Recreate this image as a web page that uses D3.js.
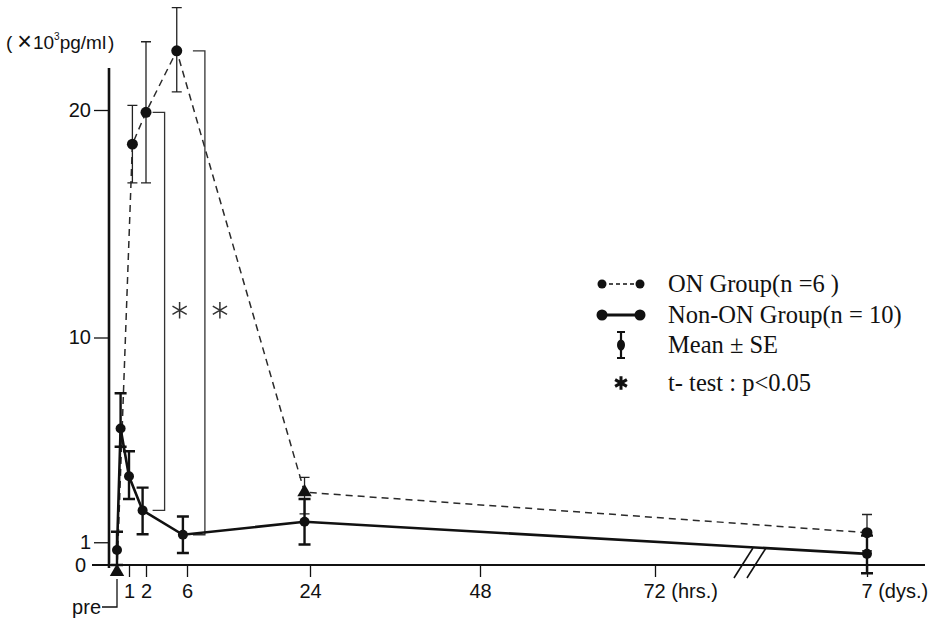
<!DOCTYPE html>
<html>
<head>
<meta charset="utf-8">
<script src="https://cdn.jsdelivr.net/npm/d3@7"></script>
<style>
  html, body { margin: 0; padding: 0; background: #fff; }
  svg { display: block; }
</style>
</head>
<body>
<script>
// ---------------- DATA ----------------
// time in hours (168 h = 7 days)
const onTimes   = [0, 1.2, 2, 5, 23.2, 168];
const onMean    = [-0.3, 18.5, 19.9, 22.6, 3.2, 1.42];
const onErrUp   = [0, 1.7, 3.1, 1.9, 0.65, 0.8];
const onErrDown = [0, 1.7, 3.1, 1.8, 0.95, 0.8];
const onShape   = ["triangle", "circle", "circle", "circle", "triangle", "circle"];

const nonTimes   = [0, 0.3, 1, 1.8, 5.6, 23.2, 168];
const nonMean    = [0.66, 6.0, 3.9, 2.4, 1.33, 1.9, 0.49];
const nonErrUp   = [0.8, 1.55, 1.1, 1.0, 0.8, 1.0, 0.8];
const nonErrDown = [0.66, 0.8, 1.0, 1.05, 0.8, 1.0, 0.85];

// significance brackets: index into the time arrays of both groups
const sigOnIdx  = [2, 3];
const sigNonIdx = [3, 4];
const sigMarkLevel = 11.2;

const xTickValues = [1, 2, 6, 24, 48, 72, 168];
const xTickLabels = ["1", "2", "6", "24", "48", "72 (hrs.)", "7 (dys.)"];
const yTickValues = [0, 1, 10, 20];
const yTickLabels = ["0", "1", "10", "20"];
const breakHour = 115;

const legendLabels = ["ON Group(n =6 )", "Non-ON Group(n = 10)", "Mean \u00B1 SE", "t- test : p<0.05"];

// ---------------- LAYOUT ----------------
const W = 945, H = 624;
const ink = "#111";
const svg = d3.select("body").append("svg").attr("width", W).attr("height", H);
svg.append("rect").attr("width", W).attr("height", H).attr("fill", "#fff");

const x = d3.scaleLinear()
  .domain([0, 1, 2, 6, 24, 48, 72, 168])
  .range([117, 129, 146, 187, 310, 480, 655, 867]);
const y = d3.scaleLinear().domain([0, 20]).range([565, 110]);

const sans = "'Liberation Sans', Arial, Helvetica, sans-serif";
const serif = "'Liberation Serif', 'Times New Roman', serif";
const tickFont = 20;

// ---------------- AXES ----------------
const yAxisX = 109;
const yAxis = d3.axisLeft(y).tickValues(yTickValues.filter(v => v > 0))
  .tickSize(15).tickPadding(3)
  .tickFormat(v => yTickLabels[yTickValues.indexOf(v)]);
const gy = svg.append("g").attr("transform", `translate(${yAxisX},0)`).call(yAxis);
gy.select(".domain").remove();
gy.selectAll("line").attr("stroke", ink).attr("stroke-width", 1.3);
gy.selectAll("text").attr("font-family", sans).attr("font-size", tickFont).attr("fill", ink);
// zero label
svg.append("text").attr("x", 86).attr("y", y(0)).attr("dy", "0.36em")
  .attr("text-anchor", "end").attr("font-family", sans).attr("font-size", tickFont)
  .attr("fill", ink).text(yTickLabels[0]);

// y axis line
svg.append("line").attr("x1", yAxisX).attr("x2", yAxisX).attr("y1", 68).attr("y2", y(0) + 3)
  .attr("stroke", ink).attr("stroke-width", 2.6);

// y axis title
const yt = svg.append("text").attr("x", 6).attr("y", 49)
  .attr("font-family", sans).attr("font-size", 19).attr("fill", ink);
yt.append("tspan").text("(");
yt.append("tspan").attr("dx", 5).attr("font-size", 25).attr("dy", 1).text("\u00D7");
yt.append("tspan").attr("dx", 1).attr("dy", -1).text("10");
yt.append("tspan").attr("font-size", 10).attr("dy", -9).text("3");
yt.append("tspan").attr("dy", 9).text("pg/ml");
yt.append("tspan").attr("dx", 2).text(")");

// x axis
const xAxis = d3.axisBottom(x).tickValues(xTickValues).tickSize(12).tickPadding(7)
  .tickFormat(v => xTickLabels[xTickValues.indexOf(v)]);
const gx = svg.append("g").attr("transform", `translate(0,${y(0)})`).call(xAxis);
gx.select(".domain").remove();
gx.selectAll("line").attr("stroke", ink).attr("stroke-width", 1.3);
gx.selectAll("text").attr("font-family", sans).attr("font-size", tickFont).attr("fill", ink);
gx.selectAll(".tick").filter(d => d === 72).select("text")
  .attr("text-anchor", "start").attr("x", -12);
gx.selectAll(".tick").filter(d => d === 168).select("text")
  .attr("text-anchor", "start").attr("x", -6);

svg.append("line").attr("x1", 92).attr("x2", 925).attr("y1", y(0)).attr("y2", y(0))
  .attr("stroke", ink).attr("stroke-width", 2.2);

// axis break slashes
const bx = x(breakHour);
[-7, 6].forEach(off => {
  svg.append("line")
    .attr("x1", bx + off - 9).attr("y1", y(0) + 13)
    .attr("x2", bx + off + 10).attr("y2", y(0) - 17)
    .attr("stroke", ink).attr("stroke-width", 1.6);
});

// "pre" leader
const px = x(0);
svg.append("path")
  .attr("d", `M${px},${y(0) + 14} V607 H${px - 15}`)
  .attr("fill", "none").attr("stroke", ink).attr("stroke-width", 1.3);
svg.append("text").attr("x", px - 16).attr("y", 607).attr("dy", "0.36em")
  .attr("text-anchor", "end").attr("font-family", sans).attr("font-size", tickFont)
  .attr("fill", ink).text("pre");

// ---------------- SERIES ----------------
const onData = onTimes.map((t, i) => ({ t, m: onMean[i], up: onErrUp[i], dn: onErrDown[i], s: onShape[i] }));
const nonData = nonTimes.map((t, i) => ({ t, m: nonMean[i], up: nonErrUp[i], dn: nonErrDown[i] }));

const line = d3.line().x(d => x(d.t)).y(d => y(d.m));

// significance brackets
sigOnIdx.forEach((oi, k) => {
  const ni = sigNonIdx[k];
  const top = y(onData[oi].m), bot = y(nonData[ni].m);
  const xr = x(nonData[ni].t) + 22;
  svg.append("path")
    .attr("d", `M${xr - 12},${top} H${xr} V${bot} H${xr - 12}`)
    .attr("fill", "none").attr("stroke", "#333").attr("stroke-width", 1.3);
  svg.append("path")
    .attr("d", d3.symbol().type(d3.symbolAsterisk).size(190)())
    .attr("transform", `translate(${xr + 15},${y(sigMarkLevel)})`)
    .attr("fill", "none").attr("stroke", "#333").attr("stroke-width", 1.5);
});

// ON group (dashed)
svg.append("path").datum(onData).attr("d", line)
  .attr("fill", "none").attr("stroke", "#2a2a2a").attr("stroke-width", 1.5)
  .attr("stroke-dasharray", "7,5");
const onErr = svg.append("g");
onData.filter(d => d.up > 0 || d.dn > 0).forEach(d => {
  const cx = x(d.t), y1 = y(d.m + d.up), y2 = y(d.m - d.dn);
  onErr.append("path")
    .attr("d", `M${cx},${y1} V${y2} M${cx - 5},${y1} H${cx + 5} M${cx - 5},${y2} H${cx + 5}`)
    .attr("fill", "none").attr("stroke", "#222").attr("stroke-width", 1.3);
});
svg.append("g").selectAll("path").data(onData).join("path")
  .attr("d", d => d3.symbol().type(d.s === "triangle" ? d3.symbolTriangle : d3.symbolCircle)
    .size(d.s === "triangle" ? 90 : 95)())
  .attr("transform", d => `translate(${x(d.t)},${y(d.m)})`)
  .attr("fill", ink);

// Non-ON group (solid)
svg.append("path").datum(nonData).attr("d", line)
  .attr("fill", "none").attr("stroke", ink).attr("stroke-width", 2.6);
const nonErr = svg.append("g");
nonData.forEach(d => {
  const cx = x(d.t), y1 = y(d.m + d.up), y2 = y(d.m - d.dn);
  nonErr.append("path")
    .attr("d", `M${cx},${y1} V${y2} M${cx - 6},${y1} H${cx + 6} M${cx - 6},${y2} H${cx + 6}`)
    .attr("fill", "none").attr("stroke", ink).attr("stroke-width", 2.4);
});
svg.append("g").selectAll("circle").data(nonData).join("circle")
  .attr("cx", d => x(d.t)).attr("cy", d => y(d.m)).attr("r", 5).attr("fill", ink);

// ---------------- LEGEND ----------------
const lg = svg.append("g");
const lx1 = 602, lx2 = 640, ltx = 668;
const ly = [284, 315, 345, 383];
// ON
lg.append("line").attr("x1", lx1).attr("x2", lx2).attr("y1", ly[0]).attr("y2", ly[0])
  .attr("stroke", ink).attr("stroke-width", 1.4).attr("stroke-dasharray", "4,3");
[lx1, lx2].forEach(cx => lg.append("circle").attr("cx", cx).attr("cy", ly[0]).attr("r", 4.5).attr("fill", ink));
// Non-ON
lg.append("line").attr("x1", lx1).attr("x2", lx2).attr("y1", ly[1]).attr("y2", ly[1])
  .attr("stroke", ink).attr("stroke-width", 2.8);
[lx1, lx2].forEach(cx => lg.append("circle").attr("cx", cx).attr("cy", ly[1]).attr("r", 5.5).attr("fill", ink));
// Mean ± SE
const mx = (lx1 + lx2) / 2;
lg.append("path")
  .attr("d", `M${mx},${ly[2] - 13} V${ly[2] + 13} M${mx - 4},${ly[2] - 13} H${mx + 4} M${mx - 4},${ly[2] + 13} H${mx + 4}`)
  .attr("fill", "none").attr("stroke", ink).attr("stroke-width", 2.2);
lg.append("ellipse").attr("cx", mx).attr("cy", ly[2]).attr("rx", 4).attr("ry", 5.5).attr("fill", ink);
// asterisk
lg.append("path")
  .attr("d", d3.symbol().type(d3.symbolAsterisk).size(130)())
  .attr("transform", `translate(${mx},${ly[3]})`)
  .attr("fill", "none").attr("stroke", ink).attr("stroke-width", 3);
lg.selectAll("text.lab").data(legendLabels).join("text").attr("class", "lab")
  .attr("x", ltx).attr("y", (d, i) => ly[i]).attr("dy", "0.33em")
  .attr("font-family", serif).attr("font-size", 24.5).attr("fill", ink)
  .text(d => d);
</script>
</body>
</html>
